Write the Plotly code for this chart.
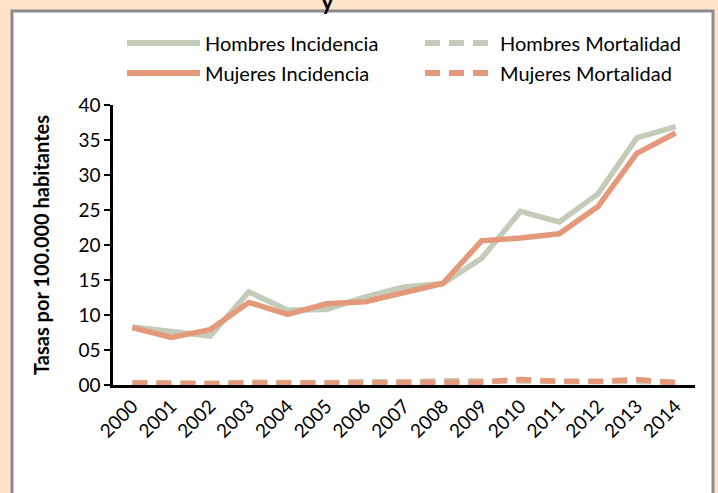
import plotly.graph_objects as go

years = [str(y) for y in range(2000, 2015)]
hombres_incidencia = [8.3, 7.7, 7.0, 13.3, 10.7, 10.8, 12.6, 14.0, 14.5, 18.1, 24.8, 23.3, 27.3, 35.3, 36.9]
mujeres_incidencia = [8.2, 6.8, 7.9, 11.8, 10.1, 11.6, 11.9, 13.1, 14.5, 20.6, 21.0, 21.6, 25.5, 33.1, 36.0]
hombres_mortalidad = [0.3, 0.2, 0.2, 0.4, 0.3, 0.3, 0.5, 0.4, 0.6, 0.6, 0.6, 0.6, 0.6, 0.5, 0.4]
mujeres_mortalidad = [0.3, 0.2, 0.2, 0.3, 0.3, 0.2, 0.3, 0.4, 0.4, 0.4, 0.8, 0.5, 0.5, 0.8, 0.3]
y_ticks = [0, 5, 10, 15, 20, 25, 30, 35, 40]

GREEN = "#C3CCB8"
ORANGE = "#E3997A"
FONT = "Lato"

W, H = 718, 493
L, R, T, B = 113, 23, 105, 108
pw, ph = W - L - R, H - T - B


def px_x(p):
    return (p - L) / pw


def px_y(p):
    return (H - B - p) / ph


fig = go.Figure()
series = [
    ("Hombres Incidencia", hombres_incidencia, GREEN, "solid"),
    ("Hombres Mortalidad", hombres_mortalidad, GREEN, "15px,9px"),
    ("Mujeres Incidencia", mujeres_incidencia, ORANGE, "solid"),
    ("Mujeres Mortalidad", mujeres_mortalidad, ORANGE, "15px,9px"),
]
for name, vals, col, dash in series:
    fig.add_trace(go.Scatter(x=years, y=vals, name=name, mode="lines",
                             line=dict(color=col, width=5.5, dash=dash),
                             showlegend=False))

shapes = [
    dict(type="rect", xref="paper", yref="paper",
         x0=px_x(12), x1=px_x(713), y0=px_y(11), y1=px_y(520),
         line=dict(color="#8C8C8C", width=3), fillcolor="white", layer="below"),
]
annotations = [
    dict(text="<b>y</b>", xref="paper", yref="paper", x=px_x(327), y=px_y(17),
         xanchor="center", yanchor="bottom", showarrow=False,
         font=dict(family=FONT, size=24, color="black")),
]
legend_items = [
    ("Hombres Incidencia", GREEN, "solid", 127, 200, 43),
    ("Hombres Mortalidad", GREEN, "dash", 425, 495, 43),
    ("Mujeres Incidencia", ORANGE, "solid", 127, 200, 73),
    ("Mujeres Mortalidad", ORANGE, "dash", 425, 495, 73),
]
for name, col, dash, x0, x1, yy in legend_items:
    shapes.append(dict(type="line", xref="paper", yref="paper",
                       x0=px_x(x0), x1=px_x(x1), y0=px_y(yy), y1=px_y(yy),
                       line=dict(color=col, width=6, dash="15px,9px" if dash == "dash" else "solid")))
    annotations.append(dict(text=name, xref="paper", yref="paper",
                            x=px_x(x1 + 3), y=px_y(yy), xanchor="left", yanchor="middle",
                            showarrow=False, font=dict(family=FONT, size=20, color="black")))

fig.update_layout(
    width=W, height=H,
    margin=dict(l=L, r=R, t=T, b=B, autoexpand=False),
    paper_bgcolor="#FDE4CB",
    plot_bgcolor="white",
    font=dict(family=FONT, color="black"),
    shapes=shapes,
    annotations=annotations,
    showlegend=False,
)
fig.update_xaxes(
    type="category", range=[-0.5, 14.5], showgrid=False, showline=True,
    linecolor="black", linewidth=2.5,
    ticks="", tickangle=-45, tickfont=dict(size=19, family=FONT), layer="below traces",
)
fig.update_yaxes(
    range=[0, 40], tickvals=y_ticks, ticktext=[f"{v:02d}" for v in y_ticks],
    showgrid=False, zeroline=False, showline=True, linecolor="black", linewidth=2.5,
    ticks="outside", ticklen=6, tickwidth=2, tickcolor="black",
    tickfont=dict(size=19, family=FONT), layer="below traces",
    title=dict(text="<b>Tasas por 100.000 habitantes</b>", font=dict(size=20, family=FONT), standoff=24),
)

fig.write_html("out.html", config={"displayModeBar": False},
               post_script="document.body.style.margin='0';")
